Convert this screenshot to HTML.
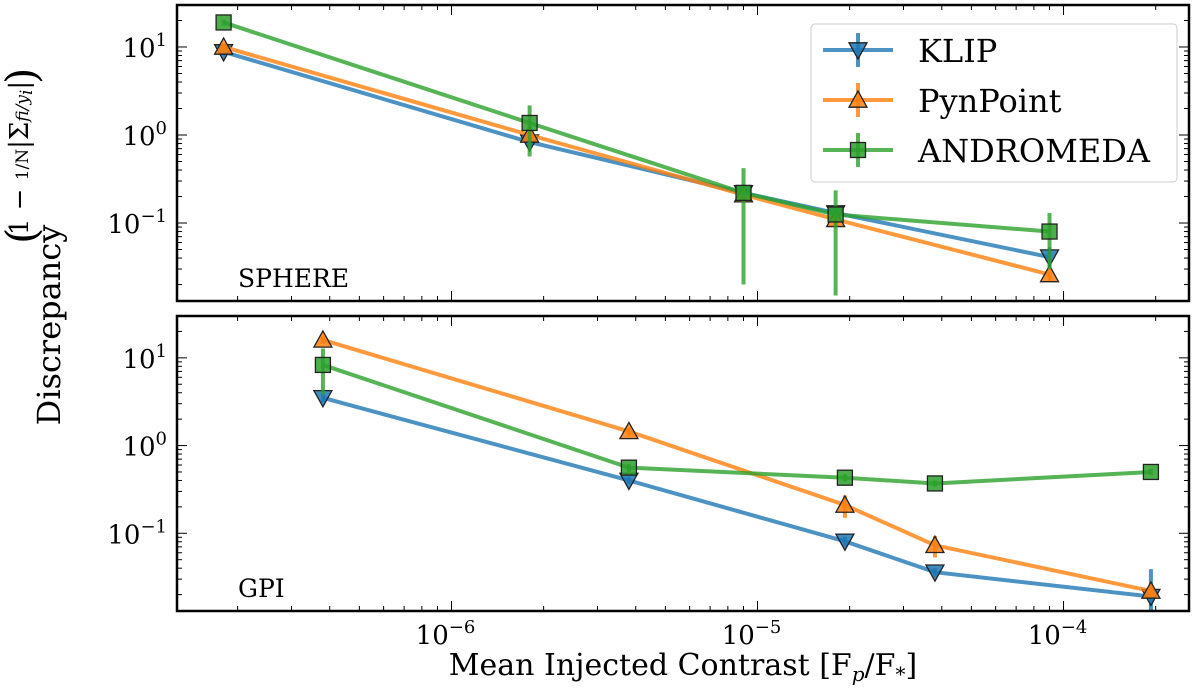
<!DOCTYPE html>
<html><head><meta charset="utf-8"><style>
html,body{margin:0;padding:0;background:#fff;}
svg{display:block;font-family:"DejaVu Serif","Liberation Serif",serif;}
</style></head><body>
<svg id="chart" width="1200" height="689" viewBox="0 0 1200 689"></svg>
<script>
// ---- data ----
const sphereX = [1.8e-7, 1.8e-6, 9e-6, 1.8e-5, 9e-5];
const gpiX = [3.8e-7, 3.8e-6, 1.93e-5, 3.8e-5, 1.93e-4];
const sphereKlip = [8.8, 0.83, 0.22, 0.13, 0.041];
const sphereKlipErr = [0.8, 0.08, 0.03, 0.02, 0.012];
const spherePyn = [10, 1.0, 0.21, 0.11, 0.026];
const spherePynErr = [1, 0.1, 0.03, 0.02, 0.004];
const sphereAnd = [19, 1.37, 0.22, 0.125, 0.08];
const sphereAndErr = [1.5, 0.8, 0.2, 0.11, 0.05];
const gpiKlip = [3.5, 0.4, 0.081, 0.036, 0.019];
const gpiKlipErr = [0.4, 0.04, 0.01, 0.004, 0.02];
const gpiPyn = [16, 1.45, 0.21, 0.073, 0.022];
const gpiPynErr = [1.5, 0.15, 0.06, 0.02, 0.004];
const gpiAnd = [8.3, 0.56, 0.43, 0.37, 0.5];
const gpiAndErr = [4.5, 0.06, 0.04, 0.03, 0.04];
const seriesNames = ["KLIP", "PynPoint", "ANDROMEDA"];
const xTickLabels = ["−6", "−5", "−4"];
const yTickLabels = ["1", "0", "−1"];

const NS = "http://www.w3.org/2000/svg";
const svg = document.getElementById("chart");
const colors = ["#1f77b4", "#ff7f0e", "#2ca02c"];
const X0 = 177, X1 = 1189;
const xLogMin = -6.897, xLogMax = -3.59;
function xs(v){ return X0 + (Math.log10(v) - xLogMin) / (xLogMax - xLogMin) * (X1 - X0); }
const panels = [
  {top:5, bot:301, label:"SPHERE", x:sphereX, ys:[sphereKlip,spherePyn,sphereAnd], es:[sphereKlipErr,spherePynErr,sphereAndErr], name:"sphere"},
  {top:316, bot:611, label:"GPI", x:gpiX, ys:[gpiKlip,gpiPyn,gpiAnd], es:[gpiKlipErr,gpiPynErr,gpiAndErr], name:"gpi"}
];
const yLogMax = 1.477, yLogMin = -1.886;
function mk(tag, attrs, parent){ const e=document.createElementNS(NS,tag); for(const k in attrs) e.setAttribute(k,attrs[k]); (parent||svg).appendChild(e); return e; }

function marker(g, kind, cx, cy, color){
  const s = 9;
  let e;
  if(kind===0) e = mk("polygon",{points:`${cx-s},${cy-s*0.8} ${cx+s},${cy-s*0.8} ${cx},${cy+s*1.0}`,fill:color,"fill-opacity":0.85,stroke:"#222","stroke-width":1.3},g);
  else if(kind===1) e = mk("polygon",{points:`${cx-s},${cy+s*0.8} ${cx+s},${cy+s*0.8} ${cx},${cy-s*1.0}`,fill:color,"fill-opacity":0.85,stroke:"#222","stroke-width":1.3},g);
  else e = mk("rect",{x:cx-7.5,y:cy-7.5,width:15,height:15,fill:color,"fill-opacity":0.85,stroke:"#222","stroke-width":1.3},g);
  return e;
}

panels.forEach(p=>{
  const ys = v => p.top + (yLogMax - Math.log10(v)) / (yLogMax - yLogMin) * (p.bot - p.top);
  const g = mk("g",{});
  
  
  for(let d=-7; d<=-3; d++) for(let m=1; m<10; m++){
    const v = m*Math.pow(10,d); const L=Math.log10(v);
    if(L<xLogMin||L>xLogMax) continue;
    const x=xs(v), len = m===1?10:5;
    mk("line",{x1:x,x2:x,y1:p.bot,y2:p.bot-len,stroke:"#000","stroke-width":1},g);
    mk("line",{x1:x,x2:x,y1:p.top,y2:p.top+len,stroke:"#000","stroke-width":1},g);
  }
  for(let d=-2; d<=1; d++) for(let m=1; m<10; m++){
    const v=m*Math.pow(10,d); const L=Math.log10(v);
    if(L<yLogMin||L>yLogMax) continue;
    const y=ys(v), len=m===1?10:5;
    mk("line",{x1:X0,x2:X0+len,y1:y,y2:y,stroke:"#000","stroke-width":1},g);
    mk("line",{x1:X1,x2:X1-len,y1:y,y2:y,stroke:"#000","stroke-width":1},g);
  }
  [1,0,-1].forEach((d,i)=>{
    const t = mk("text",{x:X0-10,y:ys(Math.pow(10,d))+10,"text-anchor":"end","font-size":26,fill:"#000"},g);
    
    
    t.innerHTML = `10<tspan dy="-11" font-size="18">${yTickLabels[i]}</tspan>`;
  });
  p.ys.forEach((arr,si)=>{
    const sg = mk("g",{},g);
    
    
    const pts = arr.map((v,i)=>`${xs(p.x[i])},${ys(v)}`).join(" ");
    mk("polyline",{points:pts,fill:"none",stroke:colors[si],"stroke-width":4,"stroke-opacity":0.8},sg);
    arr.forEach((v,i)=>{
      const e=p.es[si][i];
      const lo=Math.max(v-e, 1e-3);
      mk("line",{x1:xs(p.x[i]),x2:xs(p.x[i]),y1:ys(v+e),y2:Math.min(ys(lo),p.bot),stroke:colors[si],"stroke-width":4,"stroke-opacity":0.8},sg);
    });
    arr.forEach((v,i)=>{
      const m = marker(sg, si, xs(p.x[i]), ys(v), colors[si]);
      
      
    });
  });
  const lab = mk("text",{x:238,y:p.bot-14,"font-size":25,fill:"#000"},g);
  
  
  lab.textContent = p.label;
  const fr = mk("rect",{x:X0,y:p.top,width:X1-X0,height:p.bot-p.top,fill:"none",stroke:"#000","stroke-width":2.5},g);
  
  
});

[-6,-5,-4].forEach((d,i)=>{
  const t = mk("text",{x:xs(Math.pow(10,d))-6,y:644,"text-anchor":"middle","font-size":26,fill:"#000"});
  
  
  t.innerHTML = `10<tspan dy="-11" font-size="18">${xTickLabels[i]}</tspan>`;
});

const lg = mk("g",{});


mk("rect",{x:811,y:24,width:366,height:158,rx:4,fill:"#fff","fill-opacity":0.85,stroke:"#ccc","stroke-width":1},lg);
seriesNames.forEach((n,i)=>{
  const y = 50 + i*50;
  const eg = mk("g",{},lg);
  
  
  mk("line",{x1:823,x2:893,y1:y,y2:y,stroke:colors[i],"stroke-width":4,"stroke-opacity":0.8},eg);
  mk("line",{x1:858,x2:858,y1:y-17,y2:y+17,stroke:colors[i],"stroke-width":4,"stroke-opacity":0.8},eg);
  marker(eg,i,858,y,colors[i]);
  const t = mk("text",{x:918,y:y+12,"font-size":32,fill:"#000"},eg);
  t.textContent = n;
});
</script>
<div style="position:absolute;left:0;top:0;width:1200px;height:689px;pointer-events:none;">
<svg width="1200" height="689" style="position:absolute;left:0;top:0;font-family:'DejaVu Serif','Liberation Serif',serif;">
  <text x="683" y="675" text-anchor="middle" font-size="30" fill="#000">Mean Injected Contrast [F<tspan dy="6" font-size="20" font-style="italic">p</tspan><tspan dy="-6">/F</tspan><tspan dy="6" font-size="20">*</tspan><tspan dy="-6">]</tspan></text>
  <text transform="translate(60,325) rotate(-90)" text-anchor="middle" font-size="32" fill="#000">Discrepancy</text>
  <g transform="translate(28,152) rotate(-90)">
    <text x="-92" y="8" font-size="42" fill="#000">(</text>
    <text x="-6" y="0" text-anchor="middle" font-size="26" fill="#000">1 − <tspan font-size="17">1/N</tspan>|Σ<tspan font-size="17" font-style="italic">f<tspan dy="4">i</tspan><tspan dy="-4">/y</tspan><tspan dy="4">i</tspan></tspan><tspan dy="-4">|</tspan></text>
    <text x="68" y="8" font-size="42" fill="#000">)</text>
  </g>
</svg>
</div>
</body></html>
